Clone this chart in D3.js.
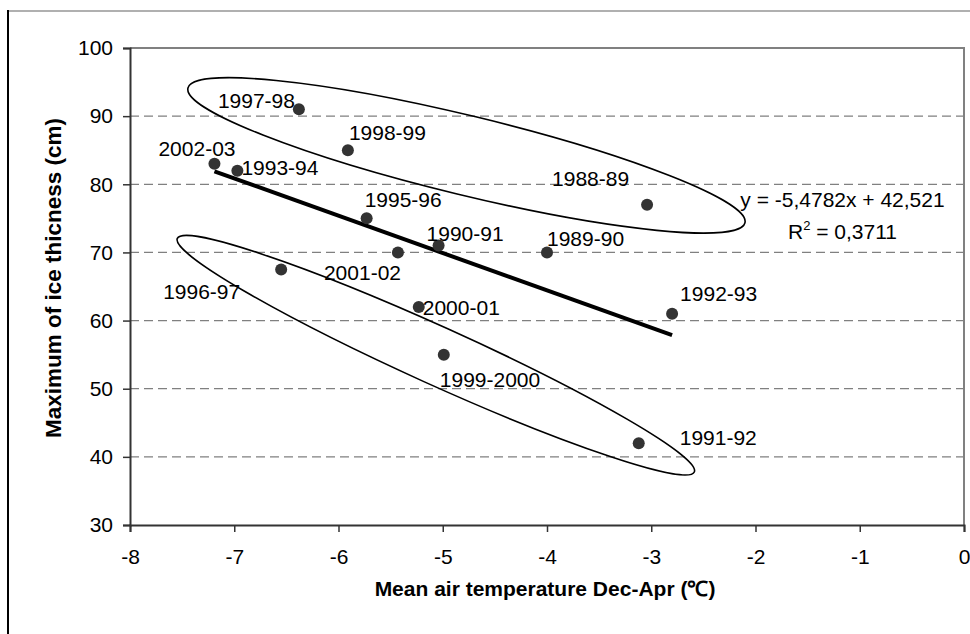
<!DOCTYPE html>
<html>
<head>
<meta charset="utf-8">
<script src="https://cdn.jsdelivr.net/npm/d3@7"></script>
<style>
  body { margin: 0; background: #fff; }
  svg { display: block; }
</style>
</head>
<body>
<svg id="chart" width="970" height="634"></svg>
<script>
// winter seasons with mean Dec-Apr air temperature and max ice thickness
let seasons = ["1988-89", "1989-90", "1990-91", "1991-92", "1992-93", "1993-94", "1995-96",
  "1996-97", "1997-98", "1998-99", "1999-2000", "2000-01", "2001-02", "2002-03"];
let meanTemp = [-3.04, -4.00, -5.04, -3.12, -2.80, -6.97, -5.73,
  -6.55, -6.38, -5.91, -4.99, -5.23, -5.43, -7.19];
let iceThickness = [77, 70, 71, 42, 61, 82, 75,
  67.5, 91, 85, 55, 62, 70, 83];

// linear trend as printed on the chart
let trendSlope = -5.4782;
let trendIntercept = 42.521;
let trendR2 = 0.3711;

let xTicks = [-8, -7, -6, -5, -4, -3, -2, -1, 0];
let yTicks = [30, 40, 50, 60, 70, 80, 90, 100];

// hand placed label offsets (px) from each point
let labelOffsets = {
  "1988-89": [-95, -19], "1989-90": [0, -6], "1990-91": [-12, -5], "1991-92": [41, 2],
  "1992-93": [8, -13], "1993-94": [4, 4], "1995-96": [-2, -11], "1996-97": [-118, 30],
  "1997-98": [-81, -1], "1998-99": [1, -10], "1999-2000": [-4, 32], "2000-01": [4, 8],
  "2001-02": [-74, 28], "2002-03": [-56, -8]
};

// the two grouping loops, given by their end points in data units
let groupEllipses = [
  {from: [-7.444, 94.13], to: [-2.101, 74.35], halfWidth: 39.7},
  {from: [-7.546, 72.06], to: [-2.587, 37.78], halfWidth: 29}
];

function drawVis(svgClass) {
  let svg = d3.select(svgClass);
  let font = "'Liberation Sans', Arial, sans-serif";
  let gridColor = "#808080";
  let axisColor = "#333333";
  let dotColor = "#333333";

  let left = 130, right = 964, top = 48, bottom = 525;

  let x = d3.scaleLinear().domain([-8, 0]).range([left, right]);
  let y = d3.scaleLinear().domain([30, 100]).range([bottom, top]);

  // outer chart frame (top and left edges)
  svg.append("line")
    .attr("x1", 8).attr("x2", 970).attr("y1", 11).attr("y2", 11)
    .style("stroke", "#b0b0b0").style("stroke-width", 2);
  svg.append("line")
    .attr("x1", 8).attr("x2", 8).attr("y1", 10).attr("y2", 634)
    .style("stroke", "#000").style("stroke-width", 2);

  // dashed horizontal gridlines
  svg.append("g")
    .selectAll("line")
    .data(yTicks.filter((d) => d > 30 && d < 100))
    .enter().append("line")
      .attr("x1", left).attr("x2", right)
      .attr("y1", (d) => y(d)).attr("y2", (d) => y(d))
      .style("stroke", gridColor)
      .style("stroke-width", 1.3)
      .style("stroke-dasharray", "9,5");

  // plot area border on top and right
  svg.append("path")
    .attr("d", "M" + left + "," + top + "H" + right + "V" + bottom)
    .style("fill", "none")
    .style("stroke", gridColor)
    .style("stroke-width", 2);

  // axes
  let xAxis = svg.append("g")
    .attr("transform", "translate(0," + bottom + ")")
    .call(d3.axisBottom(x).tickValues(xTicks).tickSize(7).tickPadding(17).tickFormat(d3.format("d")));
  let yAxis = svg.append("g")
    .attr("transform", "translate(" + left + ",0)")
    .call(d3.axisLeft(y).tickValues(yTicks).tickSize(7).tickPadding(10).tickFormat(d3.format("d")));
  [xAxis, yAxis].forEach((g) => {
    g.select(".domain").style("stroke", axisColor).style("stroke-width", 2);
    g.selectAll(".tick line").style("stroke", axisColor).style("stroke-width", 1.5);
    g.selectAll(".tick text")
      .style("font-family", font)
      .style("font-size", "21px")
      .style("fill", "#000");
  });
  xAxis.selectAll(".tick text").text((d) => d < 0 ? "-" + Math.abs(d) : d);

  // axis titles
  svg.append("text")
    .attr("x", (left + right) / 2 - 2)
    .attr("y", 596)
    .text("Mean air temperature Dec-Apr (\u2103)")
    .style("font-family", font)
    .style("font-size", "21px")
    .style("font-weight", "bold")
    .style("text-anchor", "middle");
  svg.append("text")
    .attr("transform", "translate(61,278)rotate(-90)")
    .text("Maximum of ice thicness (cm)")
    .style("font-family", font)
    .style("font-size", "22.5px")
    .style("font-weight", "bold")
    .style("text-anchor", "middle");

  // grouping ellipses
  for (let e of groupEllipses) {
    let x1 = x(e.from[0]), y1 = y(e.from[1]);
    let x2 = x(e.to[0]), y2 = y(e.to[1]);
    let rx = Math.hypot(x2 - x1, y2 - y1) / 2;
    let angle = Math.atan2(y2 - y1, x2 - x1) * 180 / Math.PI;
    svg.append("ellipse")
      .attr("cx", 0).attr("cy", 0)
      .attr("rx", rx).attr("ry", e.halfWidth)
      .attr("transform", "translate(" + ((x1 + x2) / 2) + "," + ((y1 + y2) / 2) + ")rotate(" + angle + ")")
      .style("fill", "none")
      .style("stroke", "#000")
      .style("stroke-width", 1.6);
  }

  // trend line across the range of the data
  let tExtent = d3.extent(meanTemp);
  svg.append("line")
    .attr("x1", x(tExtent[0])).attr("y1", y(trendSlope * tExtent[0] + trendIntercept))
    .attr("x2", x(tExtent[1])).attr("y2", y(trendSlope * tExtent[1] + trendIntercept))
    .style("stroke", "#000")
    .style("stroke-width", 4);

  // points
  let rows = seasons.map((s, i) => ({season: s, t: meanTemp[i], ice: iceThickness[i]}));
  svg.append("g")
    .selectAll("circle")
    .data(rows)
    .enter().append("circle")
      .attr("cx", (d) => x(d.t))
      .attr("cy", (d) => y(d.ice))
      .attr("r", 6)
      .style("fill", dotColor);

  // season labels
  svg.append("g")
    .selectAll("text")
    .data(rows)
    .enter().append("text")
      .attr("x", (d) => x(d.t) + labelOffsets[d.season][0])
      .attr("y", (d) => y(d.ice) + labelOffsets[d.season][1])
      .text((d) => d.season)
      .style("font-family", font)
      .style("font-size", "21px")
      .style("fill", "#000");

  // trend equation
  let eq = svg.append("g").style("font-family", font).style("font-size", "21px");
  eq.append("text")
    .attr("x", 842.5).attr("y", 207)
    .style("text-anchor", "middle")
    .text("y = " + String(trendSlope).replace(".", ",") + "x + " + String(trendIntercept).replace(".", ","));
  let r2 = eq.append("text")
    .attr("x", 842.5).attr("y", 239)
    .style("text-anchor", "middle");
  r2.append("tspan").text("R");
  r2.append("tspan").attr("dy", -9).style("font-size", "13px").text("2");
  r2.append("tspan").attr("dy", 9).text(" = " + String(trendR2).replace(".", ","));
}

drawVis("#chart");
</script>
</body>
</html>
